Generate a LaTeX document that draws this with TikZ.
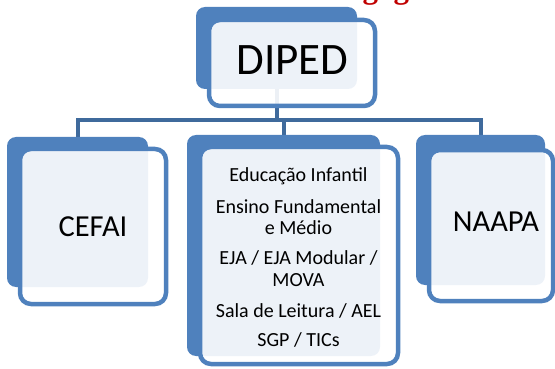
\documentclass[tikz,border=0pt]{standalone}
\usepackage{fontspec}
\setmainfont{Carlito}
\newfontfamily\titlefont{Liberation Serif}
\usetikzlibrary{backgrounds}
\definecolor{acc}{HTML}{4F81BD}
\definecolor{conncol}{HTML}{3F6A9C}
\definecolor{ttl}{HTML}{C00000}
\begin{document}
\begin{tikzpicture}[x=1pt,y=-1pt,
  backbox/.style={fill=acc, draw=none, rounded corners=9pt, inner sep=0pt},
  frontbox/.style={fill=white, fill opacity=0.9, draw=acc, draw opacity=1, line width=4.5pt, rounded corners=11pt, inner sep=0pt},
  connline/.style={draw=conncol, line width=4pt},
  lbl/.style={text=black, inner sep=0pt, anchor=base},
  big/.style={font=\fontsize{45}{54}\selectfont},
  mid/.style={font=\fontsize{30.5}{36}\selectfont},
  small/.style={font=\fontsize{20}{24}\selectfont}
]
\useasboundingbox (0,0) rectangle (555,369);

% title (cut off at the top)
\node[font=\titlefont\bfseries\fontsize{31}{37}\selectfont, text=ttl, anchor=base west, inner sep=0pt] (title) at (191,-1) {Divisão Pedagógica};

% back rectangles
\node[backbox, minimum width=161pt, minimum height=82pt] (dipedB) at (276.5,48) {};
\node[backbox, minimum width=141pt, minimum height=150pt] (cefaiB) at (77.5,212) {};
\node[backbox, minimum width=193pt, minimum height=221pt] (midB) at (283.5,245.5) {};
\node[backbox, minimum width=129pt, minimum height=150pt] (naapaB) at (480.5,210) {};

% front rectangles
\node[frontbox, minimum width=166pt, minimum height=86pt] (dipedF) at (292,63) {};
\node[frontbox, minimum width=146pt, minimum height=155pt] (cefaiF) at (93,226.5) {};
\node[frontbox, minimum width=198pt, minimum height=217pt] (midF) at (299,255.5) {};
\node[frontbox, minimum width=124pt, minimum height=151pt] (naapaF) at (491,225.5) {};

% connectors
\coordinate (elbow) at (0,120);
\begin{pgfonlayer}{background}
\draw[connline] (dipedB.south) -- (dipedB.south |- elbow) -| (cefaiB.north);
\draw[connline] (dipedB.south) -- (dipedB.south |- elbow) -| (midB.north);
\draw[connline] (dipedB.south) -- (dipedB.south |- elbow) -| (naapaB.north);
\end{pgfonlayer}

% texts
\node[lbl, big] (tdiped) at (292.5,75) {DIPED};
\node[lbl, mid] (tcefai) at (93,236.7) {CEFAI};
\node[lbl, mid] (tnaapa) at (496,231.7) {NAAPA};
\node[lbl, small] (t1) at (298.5,181.7) {Educação Infantil};
\node[lbl, small] (t2a) at (298.5,213.3) {Ensino Fundamental};
\node[lbl, small] (t2b) at (298.5,234) {e Médio};
\node[lbl, small] (t3a) at (298.5,264) {EJA / EJA Modular /};
\node[lbl, small] (t3b) at (298.5,286) {MOVA};
\node[lbl, small] (t4) at (298.5,317.3) {Sala de Leitura / AEL};
\node[lbl, small] (t5) at (298.5,346.7) {SGP / TICs};
\end{tikzpicture}
\end{document}
